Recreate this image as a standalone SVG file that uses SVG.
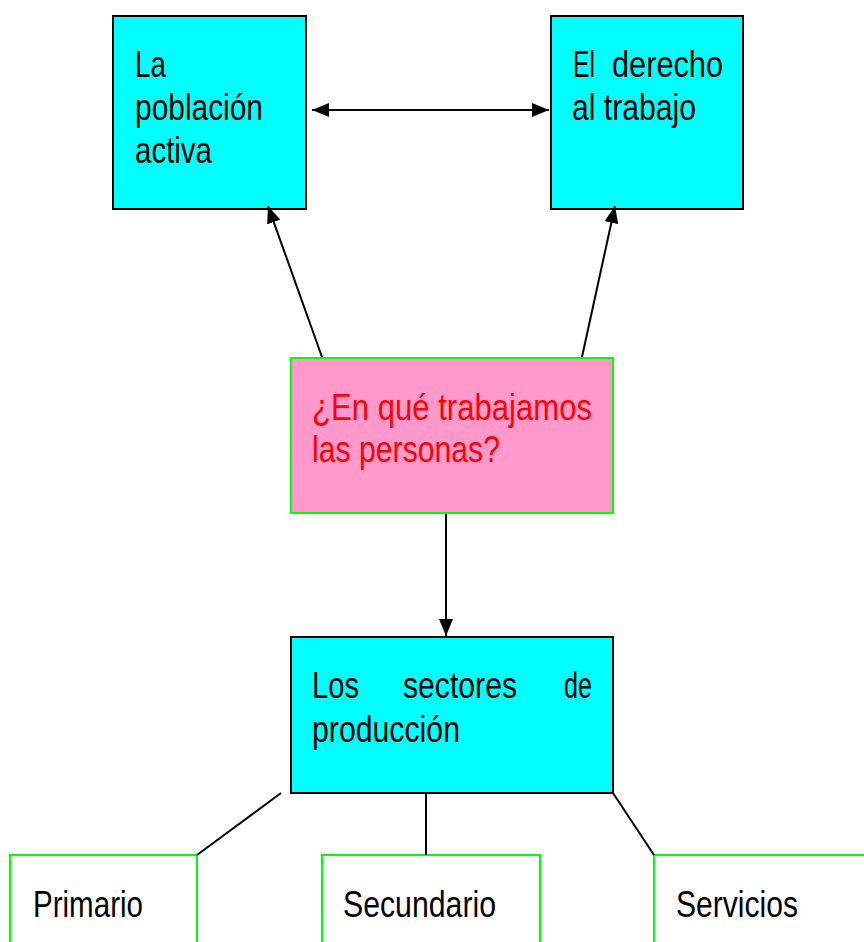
<svg xmlns="http://www.w3.org/2000/svg" width="864" height="942" viewBox="0 0 864 942">
<defs>
<marker id="ah" viewBox="0 0 17 14" refX="17" refY="7" markerWidth="17" markerHeight="14" markerUnits="userSpaceOnUse" orient="auto-start-reverse">
<path d="M0,0 L17,7 L0,14 Z" fill="#000"/>
</marker>
<style>
.cy{fill:#00ffff;stroke:#000;stroke-width:2}
.pk{fill:#ff99cc;stroke:#00ff00;stroke-width:2}
.wh{fill:#fff;stroke:#00ff00;stroke-width:2}
.t{font-family:"Liberation Sans Narrow","Liberation Sans",Arial,sans-serif;font-size:36px;fill:#000}
.r{fill:#ff0000}
.c{stroke:#000;stroke-width:2;fill:none}
</style>
</defs>
<rect width="864" height="942" fill="#fff"/>
<g id="n1">
<rect class="cy" x="113" y="16" width="193" height="193"/>
<text class="t" x="135" y="77" textLength="31" lengthAdjust="spacingAndGlyphs">La</text>
<text class="t" x="135" y="120" textLength="128" lengthAdjust="spacingAndGlyphs">población</text>
<text class="t" x="135" y="163" textLength="77" lengthAdjust="spacingAndGlyphs">activa</text>
</g>
<g id="n2">
<rect class="cy" x="551" y="16" width="192" height="193"/>
<text class="t" x="573" y="77"><tspan textLength="22" lengthAdjust="spacingAndGlyphs">El</tspan><tspan x="612" textLength="111" lengthAdjust="spacingAndGlyphs">derecho</tspan></text>
<text class="t" x="572" y="120" textLength="124" lengthAdjust="spacingAndGlyphs">al trabajo</text>
</g>
<g id="n3">
<rect class="pk" x="291" y="358" width="322" height="155"/>
<text class="t r" x="312" y="420" textLength="280" lengthAdjust="spacingAndGlyphs">¿En qué trabajamos</text>
<text class="t r" x="312" y="462" textLength="188" lengthAdjust="spacingAndGlyphs">las personas?</text>
</g>
<g id="n4">
<rect class="cy" x="291" y="637" width="322" height="156"/>
<text class="t" x="312" y="698" textLength="47" lengthAdjust="spacingAndGlyphs">Los</text>
<text class="t" x="403" y="698" textLength="114" lengthAdjust="spacingAndGlyphs">sectores</text>
<text class="t" x="564" y="698" textLength="28" lengthAdjust="spacingAndGlyphs">de</text>
<text class="t" x="312" y="742" textLength="148" lengthAdjust="spacingAndGlyphs">producción</text>
</g>
<g id="n5">
<path class="wh" d="M10,945 V855 H197 V945"/>
<text class="t" x="33" y="917" textLength="110" lengthAdjust="spacingAndGlyphs">Primario</text>
</g>
<g id="n6">
<path class="wh" d="M322,945 V855 H540 V945"/>
<text class="t" x="343" y="917" textLength="153" lengthAdjust="spacingAndGlyphs">Secundario</text>
</g>
<g id="n7">
<path class="wh" d="M654,945 V855 H866"/>
<text class="t" x="676" y="917" textLength="122" lengthAdjust="spacingAndGlyphs">Servicios</text>
</g>
<g id="connectors">
<line class="c" x1="312" y1="110" x2="549" y2="110" marker-start="url(#ah)" marker-end="url(#ah)"/>
<line class="c" x1="322" y1="357" x2="268" y2="206" marker-end="url(#ah)"/>
<line class="c" x1="582" y1="357" x2="615" y2="206" marker-end="url(#ah)"/>
<line class="c" x1="446" y1="514" x2="446" y2="636" marker-end="url(#ah)"/>
<line class="c" x1="281" y1="793" x2="197" y2="855"/>
<line class="c" x1="426" y1="794" x2="426" y2="855"/>
<line class="c" x1="613" y1="793" x2="654" y2="855"/>
</g>
</svg>
